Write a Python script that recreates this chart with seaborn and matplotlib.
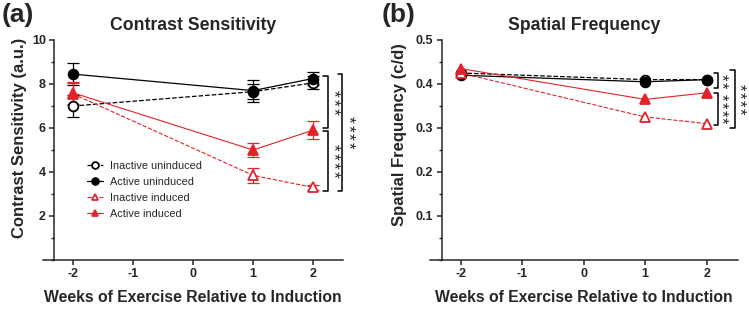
import seaborn as sns
import matplotlib.pyplot as plt
import pandas as pd
from matplotlib.ticker import MultipleLocator

# x positions (weeks relative to induction)
weeks = [-2, 1, 2]
groups = ["Inactive uninduced", "Active uninduced", "Inactive induced", "Active induced"]

# panel (a) contrast sensitivity, mean and error
cs_inactive_unind = [7.0, 7.65, 8.05]
cs_active_unind = [8.45, 7.7, 8.25]
cs_inactive_ind = [7.55, 3.85, 3.3]
cs_active_ind = [7.6, 5.0, 5.9]
cs_err_inactive_unind = [0.5, 0.35, 0.3]
cs_err_active_unind = [0.5, 0.5, 0.3]
cs_err_inactive_ind = [0.5, 0.35, 0.1]
cs_err_active_ind = [0.5, 0.3, 0.4]

# panel (b) spatial frequency
sf_inactive_unind = [0.425, 0.41, 0.41]
sf_active_unind = [0.42, 0.405, 0.41]
sf_inactive_ind = [0.425, 0.325, 0.31]
sf_active_ind = [0.435, 0.365, 0.38]

# significance brackets: (top, bottom, number of stars)
cs_brackets_inner = [(8.35, 6.0, 3), (5.85, 3.15, 4)]
cs_bracket_outer = (8.35, 3.15, 4)
sf_brackets_inner = [(0.424, 0.39, 2), (0.379, 0.307, 4)]
sf_bracket_outer = (0.432, 0.299, 4)

RED = "#e2232a"
styles = {
    "Inactive uninduced": dict(color="black", ls="--", marker="o", mfc="white", lw=0.9),
    "Active uninduced": dict(color="black", ls="-", marker="o", mfc="black", lw=0.9),
    "Inactive induced": dict(color=RED, ls="--", marker="^", mfc="white", lw=0.8),
    "Active induced": dict(color=RED, ls="-", marker="^", mfc=RED, lw=0.8),
}

sns.set_style("ticks")
plt.rcParams["font.family"] = ["Liberation Sans", "DejaVu Sans"]

fig = plt.figure(figsize=(7.49, 3.14), dpi=100)
ax1 = fig.add_axes([43 / 749, 1 - 260 / 314, 300 / 749, 220 / 314])
ax2 = fig.add_axes([430 / 749, 1 - 260 / 314, 307.5 / 749, 220 / 314])


def draw_panel(ax, values, errors):
    for g, vals, err in zip(groups, values, errors):
        st = styles[g]
        df = pd.DataFrame({"week": weeks, "value": vals})
        if err is not None:
            ax.errorbar(weeks, vals, yerr=err, fmt="none", ecolor=st["color"],
                        elinewidth=0.9, capsize=4, capthick=0.9, zorder=2)
        sns.lineplot(data=df, x="week", y="value", ax=ax, color=st["color"],
                     linestyle=st["ls"], linewidth=st["lw"], marker=st["marker"],
                     markersize=7, markerfacecolor=st["mfc"],
                     markeredgecolor=st["color"], markeredgewidth=1.3,
                     label=g, errorbar=None, zorder=3, legend=False)


def bracket(ax, x, top, bot, dx, nstars, tx, fs=12.5, step=6.3):
    ax.plot([x - dx, x, x, x - dx], [top, top, bot, bot], color="black",
            lw=1.1, clip_on=False)
    mid = (top + bot) / 2
    for i in range(nstars):
        off = (i - (nstars - 1) / 2) * step
        ax.annotate("*", xy=(tx, mid), xytext=(0, -off), textcoords="offset points",
                    rotation=-90, ha="center", va="center", fontsize=fs,
                    annotation_clip=False, color="#222222")


def style_axis(ax, ymax, major, minor, ylabel, title):
    ax.set_xlim(-2.5, 2.5)
    ax.set_ylim(0, ymax)
    ax.spines["left"].set_position(("data", -2.31))
    ax.spines["top"].set_visible(False)
    ax.spines["right"].set_visible(False)
    for s in ("left", "bottom"):
        ax.spines[s].set_linewidth(1.1)
    ax.set_xticks([-2, -1, 0, 1, 2])
    ax.set_xticklabels(["-2", "-1", "0", "1", "2"])
    ax.yaxis.set_major_locator(MultipleLocator(major))
    ax.yaxis.set_minor_locator(MultipleLocator(minor))
    ax.tick_params(axis="both", which="major", direction="out", length=3.6,
                   width=1.1, labelsize=9, pad=2.5)
    ax.tick_params(axis="y", which="minor", direction="out", length=2, width=1.0)
    for lab in ax.get_xticklabels() + ax.get_yticklabels():
        lab.set_fontweight("bold")
    ax.set_xlabel("Weeks of Exercise Relative to Induction", fontsize=11.3,
                  fontweight="bold", va="top")
    ax.xaxis.set_label_coords(0.5, -0.135)
    ax.set_ylabel(ylabel, fontsize=12, fontweight="bold")
    ax.text(0.5, 1.068, title, transform=ax.transAxes, ha="center", va="center",
            fontsize=12.7, fontweight="bold")


# ---- panel (a)
draw_panel(ax1, [cs_inactive_unind, cs_active_unind, cs_inactive_ind, cs_active_ind],
           [cs_err_inactive_unind, cs_err_active_unind, cs_err_inactive_ind, cs_err_active_ind])
style_axis(ax1, 10, 2, 1, "Contrast Sensitivity (a.u.)", "Contrast Sensitivity")
ax1.set_yticks([2, 4, 6, 8, 10])
ax1.yaxis.set_label_coords(-0.053, 0.555)
for top, bot, n in cs_brackets_inner:
    bracket(ax1, 2.25, top, bot, 0.08, n, 2.33)
bracket(ax1, 2.49, cs_bracket_outer[0] + 0.1, cs_bracket_outer[1], 0.08,
        cs_bracket_outer[2], 2.58)

leg = ax1.legend(loc="upper left", bbox_to_anchor=(0.145, 0.45), frameon=False,
                 fontsize=7.8, handlelength=1.5, handletextpad=0.7,
                 labelspacing=0.55, borderpad=0, borderaxespad=0, markerscale=0.7)

# ---- panel (b)
draw_panel(ax2, [sf_inactive_unind, sf_active_unind, sf_inactive_ind, sf_active_ind],
           [None, None, None, None])
style_axis(ax2, 0.5, 0.1, 0.05, "Spatial Frequency (c/d)", "Spatial Frequency")
ax2.set_yticks([0.1, 0.2, 0.3, 0.4, 0.5])
ax2.set_yticklabels(["0.1", "0.2", "0.3", "0.4", "0.5"], fontweight="bold")
ax2.yaxis.set_label_coords(-0.075, 0.57)
for top, bot, n in sf_brackets_inner:
    bracket(ax2, 2.18, top, bot, 0.07, n, 2.24, fs=12, step=5.6)
bracket(ax2, 2.455, sf_bracket_outer[0], sf_bracket_outer[1], 0.07, sf_bracket_outer[2], 2.53,
        fs=12, step=5.6)

fig.text(2 / 749, 1 - 15 / 314, "(a)", fontsize=19, fontweight="bold", va="center")
fig.text(382 / 749, 1 - 15 / 314, "(b)", fontsize=19, fontweight="bold", va="center")

fig.savefig("out.png", dpi=100)
